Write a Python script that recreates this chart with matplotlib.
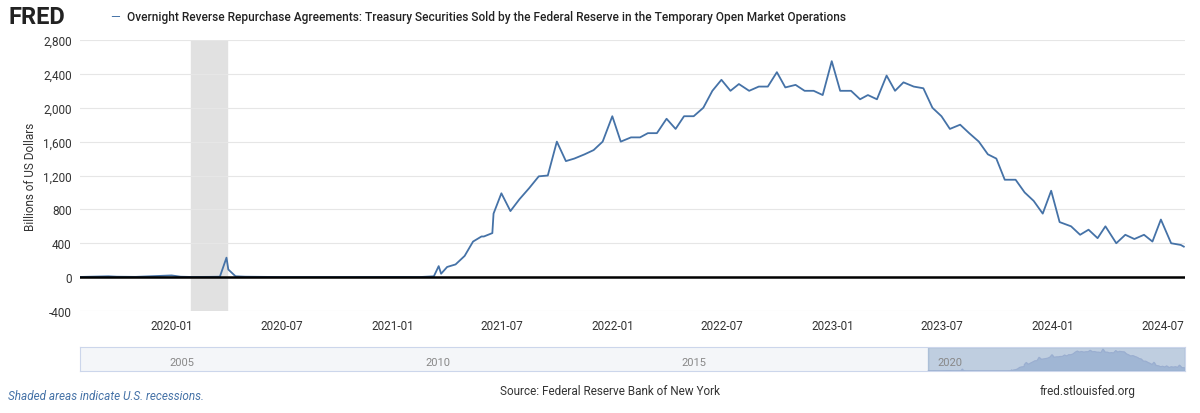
import matplotlib
matplotlib.use("Agg")
import matplotlib.pyplot as plt
import matplotlib.dates as mdates
import numpy as np
import pandas as pd

plt.rcParams['font.family'] = ['Roboto', 'DejaVu Sans']

dates = ["2019-08-01","2019-09-17","2019-10-01","2019-11-01","2019-12-31","2020-01-15","2020-02-01","2020-03-02",
"2020-03-20","2020-03-31","2020-04-03","2020-04-15","2020-05-01","2020-07-01","2020-10-01","2021-01-04","2021-02-15",
"2021-03-10","2021-03-18","2021-03-22","2021-04-01","2021-04-15","2021-04-30","2021-05-14","2021-05-28",
"2021-06-01","2021-06-15","2021-06-17","2021-06-30","2021-07-15","2021-07-30","2021-08-15","2021-08-31",
"2021-09-15","2021-09-30","2021-10-15","2021-10-29","2021-11-15","2021-11-30","2021-12-15","2021-12-31",
"2022-01-14","2022-01-31","2022-02-15","2022-02-28","2022-03-15","2022-03-31","2022-04-15","2022-04-29",
"2022-05-15","2022-05-31","2022-06-15","2022-06-30","2022-07-15","2022-07-29","2022-08-15","2022-08-31",
"2022-09-15","2022-09-30","2022-10-14","2022-10-31","2022-11-15","2022-11-30","2022-12-15","2022-12-30",
"2023-01-13","2023-01-31","2023-02-15","2023-02-28","2023-03-15","2023-03-31","2023-04-14","2023-04-28",
"2023-05-15","2023-05-31","2023-06-15","2023-06-30","2023-07-14","2023-07-31","2023-08-15","2023-08-31",
"2023-09-15","2023-09-29","2023-10-13","2023-10-31","2023-11-15","2023-11-30","2023-12-15","2023-12-29",
"2024-01-12","2024-01-31","2024-02-15","2024-02-29","2024-03-15","2024-03-28","2024-04-15","2024-04-30",
"2024-05-15","2024-05-31","2024-06-14","2024-06-28","2024-07-15","2024-07-31","2024-08-05"]
values = [2,10,5,3,20,5,2,3,
5,230,90,10,5,1,1,2,1,
10,130,40,120,150,250,420,480,
480,520,750,990,780,920,1050,1190,
1200,1600,1370,1400,1450,1500,1600,1900,
1600,1650,1650,1700,1700,1870,1750,1900,
1900,2000,2200,2330,2200,2280,2200,2250,
2250,2420,2240,2270,2200,2200,2150,2550,
2200,2200,2100,2150,2100,2380,2200,2300,
2250,2230,2000,1900,1750,1800,1700,1600,
1450,1400,1150,1150,1000,900,750,1020,
650,600,500,560,460,600,400,500,
450,500,420,680,400,380,360]
yticks = [-400,0,400,800,1200,1600,2000,2400,2800]
xticks = ["2020-01","2020-07","2021-01","2021-07","2022-01","2022-07","2023-01","2023-07","2024-01","2024-07"]

d = pd.to_datetime(dates)
col = "#4572a7"
fig = plt.figure(figsize=(12, 4.14), dpi=100)
ax = fig.add_axes([80/1200, 1-312/414, 1105/1200, 271/414])
ax.plot(d, values, color=col, lw=1.3)
ax.axvspan(pd.Timestamp("2020-02-01"), pd.Timestamp("2020-04-01"), color="#e1e1e1", zorder=0)
ax.axhline(0, color="black", lw=1.8)
ax.set_ylim(-400, 2800)
ax.set_xlim(pd.Timestamp("2019-08-01"), pd.Timestamp("2024-08-07"))
ax.set_yticks(yticks)
ax.set_yticklabels([f"{v:,}" for v in yticks], fontsize=8.5, color="#333")
ax.set_xticks(pd.to_datetime(xticks))
ax.set_xticklabels(xticks, fontsize=8.5, color="#333")
ax.grid(axis="y", color="#e6e6e6", lw=0.8)
ax.set_axisbelow(True)
for s in ax.spines.values():
    s.set_visible(False)
ax.tick_params(length=0, pad=6)
ax.set_ylabel("Billions of US Dollars", fontsize=8.5, color="#333")

fig.text(8/1200, 1-18/414, "FRED", fontsize=17, fontweight="bold", color="#222", va="center")
fig.text(110/1200, 1-18/414, "—", fontsize=9, color=col, va="center")
fig.text(127/1200, 1-18/414, "Overnight Reverse Repurchase Agreements: Treasury Securities Sold by the Federal Reserve in the Temporary Open Market Operations",
         fontsize=8.6, color="#222", va="center", fontweight="medium")

nav = fig.add_axes([80/1200, 1-372/414, 1105/1200, 24/414])
nav.set_facecolor("#f4f6f9")
nav.set_xlim(pd.Timestamp("2003-01-01"), pd.Timestamp("2024-08-07"))
nav.set_ylim(0, 2800)
nav.plot(d, values, color="#9aaed0", lw=0.8)
nav.fill_between(d, values, color="#c8d4e8")
nav.axvspan(pd.Timestamp("2019-08-01"), pd.Timestamp("2024-08-07"), color=col, alpha=0.3)
nav.set_yticks([])
nav.set_xticks(pd.to_datetime(["2005-01-01","2010-01-01","2015-01-01","2020-01-01"]))
nav.set_xticklabels(["2005","2010","2015","2020"], fontsize=8, color="#888")
nav.tick_params(axis="x", direction="in", pad=-10, length=0)
for s in nav.spines.values():
    s.set_color("#ccd6eb")

fig.text(8/1200, 1-397/414, "Shaded areas indicate U.S. recessions.", fontsize=8.5, style="italic", color="#4572a7", va="center")
fig.text(610/1200, 1-392/414, "Source: Federal Reserve Bank of New York", fontsize=8.5, color="#333", ha="center", va="center")
fig.text(1135/1200, 1-392/414, "fred.stlouisfed.org", fontsize=8.5, color="#333", ha="right", va="center")
fig.savefig("out.png", dpi=100)
